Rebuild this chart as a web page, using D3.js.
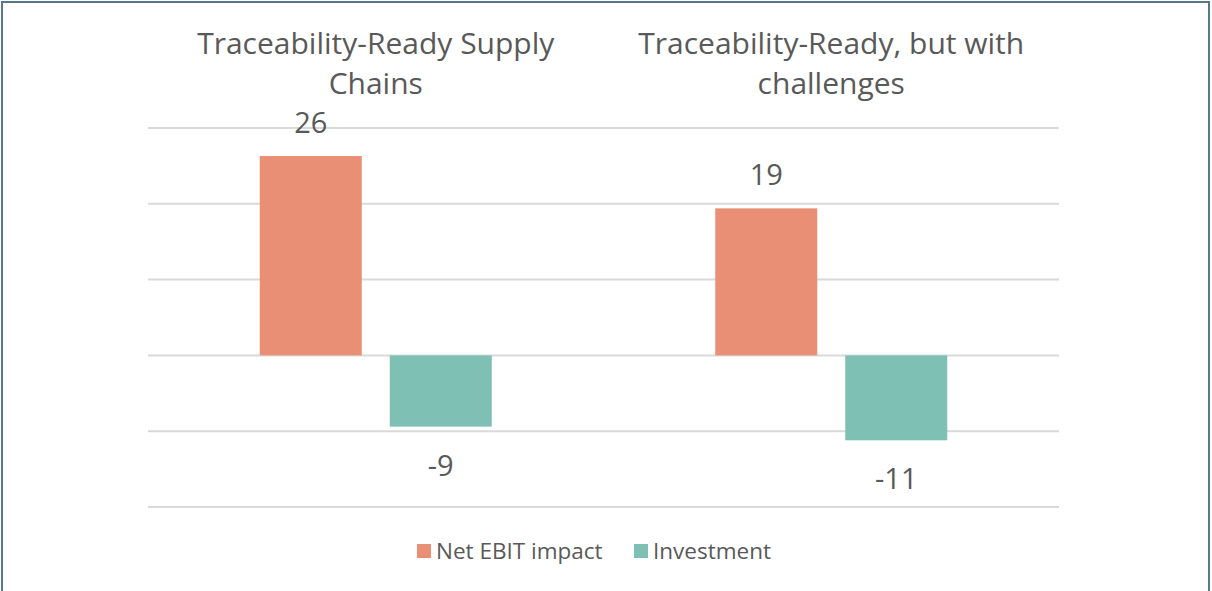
<!DOCTYPE html>
<html>
<head>
<meta charset="utf-8">
<script src="https://cdn.jsdelivr.net/npm/d3@7"></script>
<style>
  html, body { margin: 0; padding: 0; background: #fff; }
  svg { display: block; font-family: "Open Sans", sans-serif; }
</style>
</head>
<body>
<div id="chart"></div>
<script>
const categories = [
  ['Traceability-Ready Supply', 'Chains'],
  ['Traceability-Ready, but with', 'challenges']
];
const series = ['Net EBIT impact', 'Investment'];
const netEbit = [26.3, 19.4];
const investment = [-9.4, -11.2];
const gridTicks = [-20, -10, 0, 10, 20, 30];

const colors = { 'Net EBIT impact': '#e88f75', 'Investment': '#7fc0b4' };
const textColor = '#595959';
// plain hyphen for negatives, like the source
const fmt = v => String(Math.round(v));

const W = 1212, H = 591;
const svg = d3.select('#chart').append('svg')
  .attr('width', W).attr('height', H);

// frame
svg.append('path')
  .attr('d', `M2,${H} V2 H1209 V${H}`)
  .attr('fill', 'none')
  .attr('stroke', '#56788a')
  .attr('stroke-width', 2);

const x0 = d3.scaleBand().domain([0, 1]).range([148, 1059]);
const groupW = 232;
const x1 = d3.scaleBand().domain(series).range([0, groupW]).paddingInner(0.2154);
const y = d3.scaleLinear().domain([-20, 30]).range([507, 128]);

// gridlines
svg.append('g').selectAll('line')
  .data(gridTicks)
  .join('line')
  .attr('x1', 148).attr('x2', 1059)
  .attr('y1', d => y(d)).attr('y2', d => y(d))
  .attr('stroke', '#d9d9d9')
  .attr('stroke-width', 2);

const rows = categories.map((c, i) => ({
  i,
  title: c,
  values: [
    { key: 'Net EBIT impact', v: netEbit[i] },
    { key: 'Investment', v: investment[i] }
  ]
}));

const g = svg.selectAll('.cat')
  .data(rows)
  .join('g')
  .attr('class', 'cat')
  .attr('transform', d => `translate(${x0(d.i) + (x0.bandwidth() - groupW) / 2},0)`);

g.selectAll('rect')
  .data(d => d.values)
  .join('rect')
  .attr('x', d => x1(d.key))
  .attr('width', x1.bandwidth())
  .attr('y', d => y(Math.max(0, d.v)))
  .attr('height', d => Math.abs(y(d.v) - y(0)))
  .attr('fill', d => colors[d.key]);

g.selectAll('.val')
  .data(d => d.values)
  .join('text')
  .attr('class', 'val')
  .attr('x', d => x1(d.key) + x1.bandwidth() / 2)
  .attr('y', d => d.v >= 0 ? y(d.v) - 23 : y(d.v) + 49)
  .attr('text-anchor', 'middle')
  .attr('font-size', 29)
  .attr('fill', textColor)
  .text(d => fmt(d.v));

// category titles above each group
svg.selectAll('.title')
  .data(rows)
  .join('text')
  .attr('class', 'title')
  .attr('text-anchor', 'middle')
  .attr('font-size', 30)
  .attr('fill', textColor)
  .attr('x', d => x0(d.i) + x0.bandwidth() / 2)
  .selectAll('tspan')
  .data(d => d.title)
  .join('tspan')
  .attr('x', function () { return d3.select(this.parentNode).attr('x'); })
  .attr('y', (d, j) => 54 + j * 40)
  .text(d => d);

// legend
const legendX = [417, 634];
const lg = svg.selectAll('.legend')
  .data(series)
  .join('g')
  .attr('class', 'legend')
  .attr('transform', (d, i) => `translate(${legendX[i]},544)`);
lg.append('rect')
  .attr('width', 14).attr('height', 14)
  .attr('fill', d => colors[d]);
lg.append('text')
  .attr('x', 19).attr('y', 15)
  .attr('font-size', 22.5)
  .attr('fill', textColor)
  .text(d => d);
</script>
</body>
</html>
